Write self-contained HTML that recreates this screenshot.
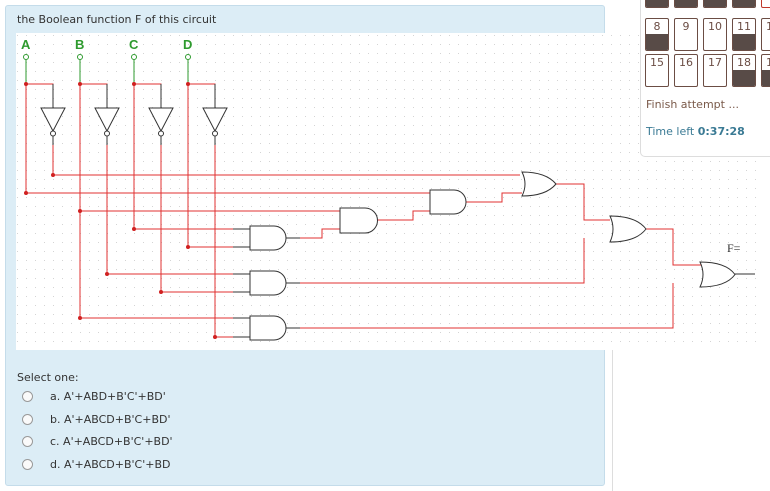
<!DOCTYPE html>
<html><head><meta charset="utf-8"><style>
body{margin:0;width:770px;height:491px;background:#fff;overflow:hidden;position:relative;font-family:Verdana,"DejaVu Sans","Liberation Sans",sans-serif;}
.panel{position:absolute;left:5px;top:5px;width:598px;height:479px;background:#dcedf6;border:1px solid #c4dcea;border-radius:3px;}
.t{position:absolute;font-size:11px;color:#333;}
.side{position:absolute;left:640px;top:-5px;width:140px;height:160px;border:1px solid #ddd;border-radius:5px;background:#fff;}
.box{position:absolute;width:22px;height:31px;border:1px solid #6b4d44;border-radius:2px;background:#fff;font-size:11px;color:#6b4d44;text-align:center;line-height:15px;overflow:hidden;}
.box .d{position:absolute;left:0;right:0;bottom:0;height:16px;background:#584b47;}
.radio{position:absolute;width:9px;height:9px;border:1px solid #999;border-radius:50%;background:#fafafa;}
</style></head><body>
<div class="panel"></div>
<div style="position:absolute;left:612px;top:150px;width:1px;height:341px;background:#ddd"></div>
<div class="t" style="left:17px;top:13px">the Boolean function F of this circuit</div>
<svg style="position:absolute;left:0;top:0" width="770" height="491">
<defs><pattern id="g" x="17" y="35" width="9" height="9" patternUnits="userSpaceOnUse"><rect x="0" y="0" width="1" height="1" fill="#d4d4d4"/></pattern></defs>
<rect x="16" y="33" width="742" height="317" fill="#fff"/>
<rect x="16" y="33" width="742" height="317" fill="url(#g)"/>
<g font-family="Liberation Sans,sans-serif" font-weight="bold" font-size="13" fill="#2e9a2e">
<text x="21" y="49">A</text><text x="75" y="49">B</text><text x="129" y="49">C</text><text x="183" y="49">D</text></g>
<g fill="none" stroke="#2e9a2e" stroke-width="1">
<circle cx="26" cy="57" r="2.5"/><circle cx="80" cy="57" r="2.5"/><circle cx="134" cy="57" r="2.5"/><circle cx="188" cy="57" r="2.5"/>
<path d="M26 60V84M80 60V84M134 60V84M188 60V84"/></g>
<g fill="none" stroke="#e03030" stroke-width="1">
<path d="M26 84V193M80 84V318M134 84V229M188 84V247"/>
<path d="M26 84H53V100M80 84H107V100M134 84H161V100M188 84H215V100"/>
<path d="M53 145V175M107 145V274M161 145V292M215 145V337"/>
<path d="M53 175H520M26 193H430M80 211H340M134 229H250M188 247H250M107 274H250M161 292H250M80 318H250M215 337H250"/>
<path d="M286 238H322V229H340M377 220H413V211H430M466 202H502V193H522M556 184H584V220H610M584 238V283H290M646 229H673V265H702M673 283V328H290"/>
</g>
<g fill="#d02020"><circle cx="26" cy="84" r="2"/><circle cx="80" cy="84" r="2"/><circle cx="134" cy="84" r="2"/><circle cx="188" cy="84" r="2"/>
<circle cx="53" cy="175" r="2"/><circle cx="26" cy="193" r="2"/><circle cx="80" cy="211" r="2"/><circle cx="134" cy="229" r="2"/><circle cx="188" cy="247" r="2"/><circle cx="107" cy="274" r="2"/><circle cx="161" cy="292" r="2"/><circle cx="80" cy="318" r="2"/><circle cx="215" cy="337" r="2"/></g>
<g fill="#fff" stroke="#333" stroke-width="1">
<path d="M53 84V108M107 84V108M134 84M161 84V108M215 84V108" fill="none"/>
<path d="M41 108H65L53 131Z"/><circle cx="53" cy="133.5" r="2.5"/><path d="M53 136V145" fill="none"/>
<path d="M95 108H119L107 131Z"/><circle cx="107" cy="133.5" r="2.5"/><path d="M107 136V145" fill="none"/>
<path d="M149 108H173L161 131Z"/><circle cx="161" cy="133.5" r="2.5"/><path d="M161 136V145" fill="none"/>
<path d="M203 108H227L215 131Z"/><circle cx="215" cy="133.5" r="2.5"/><path d="M215 136V145" fill="none"/>
<path d="M233 229H250M233 247H250M233 274H250M233 292H250M233 318H250M233 337H250M286 238H300M286 283H300M286 328H300" fill="none"/>
<path d="M250 226H274A12 12 0 0 1 274 250H250Z"/>
<path d="M250 271H274A12 12 0 0 1 274 295H250Z"/>
<path d="M250 316H274A12 12 0 0 1 274 340H250Z"/>
<path d="M340 208H365A12.5 12.5 0 0 1 365 233H340Z"/>
<path d="M430 190H454A12 12 0 0 1 454 214H430Z"/>
<path d="M522 172Q528 184 522 196Q546 196 556 184Q546 172 522 172Z"/>
<path d="M610 216Q616 229 610 242Q636 242 646 229Q636 216 610 216Z"/>
<path d="M700 262Q706 274.5 700 287Q726 287 735 274.5Q726 262 700 262Z"/>
<path d="M735 274H755" fill="none"/>
</g>
<text x="727" y="252" font-family="Liberation Serif,serif" font-size="12" fill="#333">F=</text>
</svg>
<div class="t" style="left:17px;top:371px">Select one:</div>
<div class="radio" style="left:22px;top:391px"></div><div class="t" style="left:50px;top:390px">a. A'+ABD+B'C'+BD'</div>
<div class="radio" style="left:22px;top:414px"></div><div class="t" style="left:50px;top:413px">b. A'+ABCD+B'C+BD'</div>
<div class="radio" style="left:22px;top:436px"></div><div class="t" style="left:50px;top:435px">c. A'+ABCD+B'C'+BD'</div>
<div class="radio" style="left:22px;top:459px"></div><div class="t" style="left:50px;top:458px">d. A'+ABCD+B'C'+BD</div>
<div class="side">
<div class="box" style="left:4px;top:-21px"><div class="d" style="height:32px"></div></div>
<div class="box" style="left:33px;top:-21px"><div class="d" style="height:32px"></div></div>
<div class="box" style="left:62px;top:-21px"><div class="d" style="height:32px"></div></div>
<div class="box" style="left:91px;top:-21px"><div class="d" style="height:32px"></div></div>
<div class="box" style="left:120px;top:-21px;border-color:#c0392b"></div>
<div class="box" style="left:4px;top:22px">8<div class="d"></div></div>
<div class="box" style="left:33px;top:22px">9</div>
<div class="box" style="left:62px;top:22px">10</div>
<div class="box" style="left:91px;top:22px">11<div class="d"></div></div>
<div class="box" style="left:120px;top:22px">12</div>
<div class="box" style="left:4px;top:58px">15</div>
<div class="box" style="left:33px;top:58px">16</div>
<div class="box" style="left:62px;top:58px">17</div>
<div class="box" style="left:91px;top:58px">18<div class="d"></div></div>
<div class="box" style="left:120px;top:58px">19<div class="d"></div></div>
<div class="t" style="left:5px;top:102px;color:#7a5a4a">Finish attempt ...</div>
<div class="t" style="left:5px;top:129px;color:#3a7a94">Time left <b>0:37:28</b></div>
</div>
</body></html>
